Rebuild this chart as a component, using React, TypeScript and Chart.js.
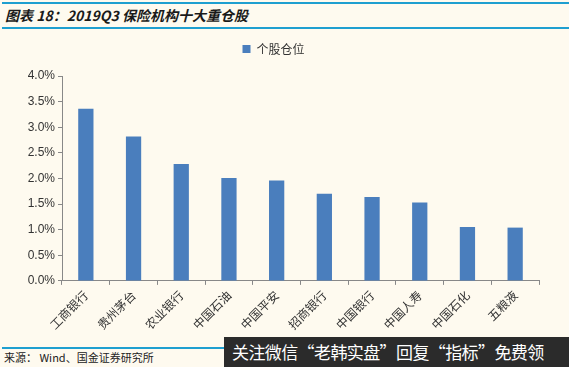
import React, { useEffect, useRef } from "react";
import { Chart, registerables } from "chart.js";

Chart.register(...registerables);

const categories = ["工商银行", "贵州茅台", "农业银行", "中国石油", "中国平安", "招商银行", "中国银行", "中国人寿", "中国石化", "五粮液"];
const seriesName = "个股仓位";
const values = [3.36, 2.82, 2.28, 2.01, 1.96, 1.70, 1.64, 1.53, 1.05, 1.04];
const yTicks = [0, 0.5, 1.0, 1.5, 2.0, 2.5, 3.0, 3.5, 4.0];

const CJK = '"Noto Sans CJK SC", "Liberation Sans", sans-serif';

const legendGap = {
  id: "legendGap",
  beforeInit(chart: any) {
    const legend = chart.legend;
    if (!legend) return;
    const fit = legend.fit;
    legend.fit = function () {
      fit.call(this);
      this.height += 11;
    };
  },
};

export default function App() {
  const ref = useRef<HTMLCanvasElement | null>(null);
  useEffect(() => {
    if (!ref.current) return;
    const chart = new Chart(ref.current, {
      type: "bar",
      data: {
        labels: categories,
        datasets: [
          {
            label: seriesName,
            data: values,
            backgroundColor: "#4a7ebd",
            borderWidth: 0,
            barPercentage: 0.32,
            categoryPercentage: 1,
          },
        ],
      },
      plugins: [legendGap],
      options: {
        animation: false,
        responsive: false,
        maintainAspectRatio: false,
        layout: { padding: { left: 8, right: 30, top: 0, bottom: 0 } },
        plugins: {
          legend: {
            display: true,
            position: "top",
            labels: {
              boxWidth: 8,
              boxHeight: 8,
              color: "#333",
              padding: 8,
              font: { family: CJK, size: 12 },
            },
          },
          tooltip: { enabled: false },
        },
        scales: {
          x: {
            grid: { display: true, drawOnChartArea: false, tickLength: 4, color: "#888", offset: true },
            border: { display: true, color: "#888" },
            ticks: {
              color: "#333",
              font: { family: CJK, size: 12 },
              minRotation: 45,
              maxRotation: 45,
              autoSkip: false,
            },
          },
          y: {
            min: 0,
            max: 4,
            afterFit: (s: any) => {
              s.width = 54;
            },
            afterBuildTicks: (s: any) => {
              s.ticks = yTicks.map((v) => ({ value: v }));
            },
            grid: { display: true, drawOnChartArea: false, tickLength: 4, color: "#888" },
            border: { display: true, color: "#888" },
            ticks: {
              color: "#333",
              font: { family: '"Liberation Sans", Arial, sans-serif', size: 12 },
              padding: 3,
              callback: (v: any) => Number(v).toFixed(1) + "%",
            },
          },
        },
      },
    });
    return () => chart.destroy();
  }, []);

  return (
    <div
      style={{
        position: "fixed",
        left: 0,
        top: 0,
        width: 569,
        height: 367,
        background: "#fefaef",
        overflow: "hidden",
        fontFamily: CJK,
      }}
    >
      <div style={{ position: "absolute", left: 2, top: 2, width: 567, height: 2, background: "#1e9fd0" }} />
      <div
        style={{
          position: "absolute",
          left: 5,
          top: 5,
          fontSize: 14,
          fontWeight: "bold",
          fontStyle: "italic",
          color: "#1a1a1a",
          lineHeight: "20px",
          whiteSpace: "nowrap",
        }}
      >
        图表 18：2019Q3 保险机构十大重仓股
      </div>
      <div style={{ position: "absolute", left: 2, top: 27, width: 567, height: 2, background: "#1e9fd0" }} />
      <canvas ref={ref} width={569} height={300} style={{ position: "absolute", left: 0, top: 35, width: 569, height: 300 }} />
      <div style={{ position: "absolute", left: 2, top: 347, width: 567, height: 1.5, background: "#1e9fd0" }} />
      <div
        style={{
          position: "absolute",
          left: 4,
          top: 350,
          fontSize: 11,
          color: "#222",
          lineHeight: "14px",
          whiteSpace: "nowrap",
        }}
      >
        来源： Wind、国金证券研究所
      </div>
      <div
        style={{
          position: "absolute",
          left: 224,
          top: 337,
          width: 345,
          height: 30,
          background: "#2b2b2b",
          color: "#fff",
          fontSize: 17,
          lineHeight: "30px",
          paddingLeft: 8,
          boxSizing: "border-box",
          whiteSpace: "nowrap",
          letterSpacing: -0.6,
        }}
      >
        关注微信“老韩实盘”回复“指标”免费领
      </div>
    </div>
  );
}
